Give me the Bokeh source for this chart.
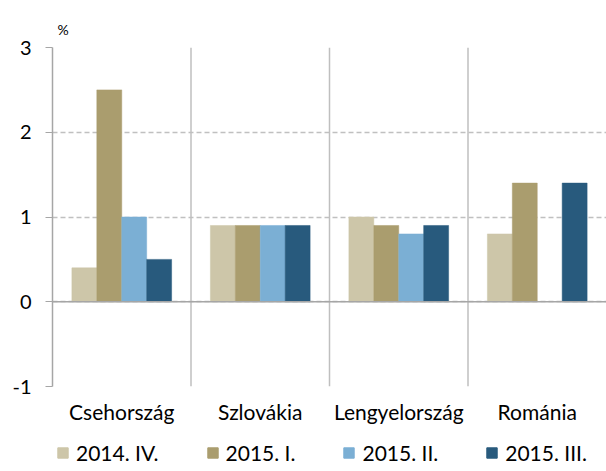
import numpy as np
from bokeh.plotting import figure
from bokeh.models import FactorRange, Span, Legend, LegendItem, FixedTicker, Title
from bokeh.transform import dodge
from bokeh.models import ColumnDataSource
from bokeh.layouts import column
from bokeh.embed import file_html
from bokeh.resources import INLINE

countries = ["Csehország", "Szlovákia", "Lengyelország", "Románia"]
series_names = ["2014. IV.", "2015. I.", "2015. II.", "2015. III."]
q4_2014 = [0.4, 0.9, 1.0, 0.8]
q1_2015 = [2.5, 0.9, 0.9, 1.4]
q2_2015 = [1.0, 0.9, 0.8, float("nan")]
q3_2015 = [0.5, 0.9, 0.9, 1.4]
y_ticks = [-1, 0, 1, 2, 3]
y_labels = {-1: "-1", 0: "0", 1: "1", 2: "2", 3: "3"}
colors = ["#CDC6A9", "#AA9D6E", "#7BAFD4", "#285A7D"]

FONT = "Lato"

src = ColumnDataSource(dict(c=countries, s0=q4_2014, s1=q1_2015, s2=q2_2015, s3=q3_2015))

p = figure(x_range=FactorRange(*countries, range_padding=0), y_range=(-1, 3),
           frame_width=554, frame_height=339,
           output_backend="svg", toolbar_location=None,
           min_border_left=52, min_border_right=0, min_border_top=47, min_border_bottom=34)
p.outline_line_color = None
p.background_fill_color = "white"
p.border_fill_color = "white"

bw = 0.18
offs = [-0.27, -0.09, 0.09, 0.27]
for i, key in enumerate(["s0", "s1", "s2", "s3"]):
    p.vbar(x=dodge("c", offs[i], range=p.x_range), top=key, bottom=0, width=bw,
           source=src, fill_color=colors[i], line_color=colors[i], line_width=0.5)

# grid
p.xgrid.grid_line_color = None
p.ygrid.grid_line_color = "#C0C0C0"
p.ygrid.grid_line_dash = "5 3"
p.ygrid.grid_line_width = 1.3
p.ygrid.ticker = FixedTicker(ticks=y_ticks)

for xs in [1, 2, 3]:
    p.add_layout(Span(location=xs, dimension="height", line_color="#BFBFBF", line_width=1.5))
p.add_layout(Span(location=0, dimension="width", line_color="#A6A6A6", line_width=1.5))

# y axis
p.yaxis.ticker = FixedTicker(ticks=y_ticks)
p.yaxis.major_label_overrides = y_labels
p.yaxis.axis_line_color = "#A6A6A6"
p.yaxis.axis_line_width = 1.5
p.yaxis.major_tick_line_color = "#A6A6A6"
p.yaxis.major_tick_out = 7
p.yaxis.major_tick_in = 0
p.yaxis.minor_tick_line_color = None
p.yaxis.major_label_text_font = FONT
p.yaxis.major_label_text_font_size = "20px"
p.yaxis.major_label_text_color = "#000000"
p.yaxis.major_label_standoff = 14

# x axis
p.xaxis.axis_line_color = None
p.xaxis.major_tick_line_color = None
p.xaxis.minor_tick_line_color = None
p.xaxis.major_label_text_font = FONT
p.xaxis.major_label_text_font_size = "21px"
p.xaxis.major_label_text_color = "#000000"
p.xaxis.major_label_standoff = 6

# "%" label
t = Title(text="%", align="left", offset=5, text_font=FONT, text_font_size="14px",
          text_font_style="normal", text_color="#000000", standoff=20)
p.add_layout(t, "above")

# legend in a separate strip below
lf = figure(width=606, height=51, x_range=(0, 1), y_range=(0, 1),
            output_backend="svg", toolbar_location=None,
            min_border_left=0, min_border_right=0, min_border_top=0, min_border_bottom=0)
lf.axis.visible = False
lf.grid.visible = False
lf.outline_line_color = None
lf.border_fill_color = "white"
dummies = []
for i in range(4):
    # hidden placeholder renderers; only their legend swatches are shown
    r = lf.vbar(x=[0.5], top=[1], width=0.1, fill_color=colors[i], line_color=colors[i])
    r.visible = False
    dummies.append(r)

legend = Legend(items=[LegendItem(label=series_names[i], renderers=[dummies[i]]) for i in range(4)],
                orientation="horizontal", location=(4, 12),
                label_text_font=FONT, label_text_font_size="21px", label_text_color="#000000",
                glyph_width=13, glyph_height=13, label_standoff=7, spacing=47,
                inactive_fill_alpha=0,
                border_line_color=None, background_fill_alpha=0, padding=0, margin=0)
lf.add_layout(legend, "center")

layout = column(p, lf, spacing=0)
open("out.html", "w").write(file_html(layout, INLINE))
